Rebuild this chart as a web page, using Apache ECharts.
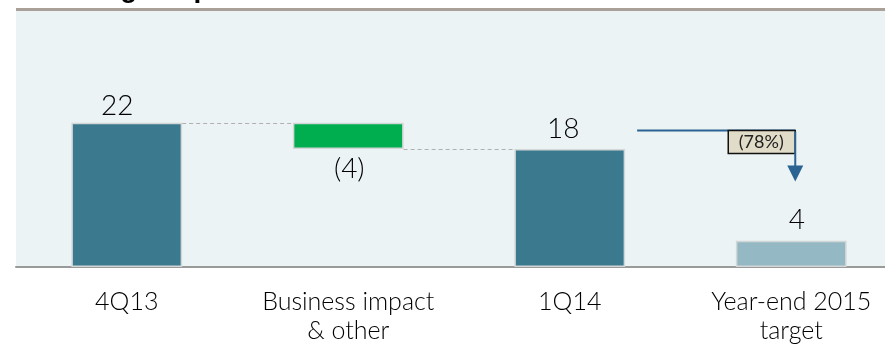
<!DOCTYPE html>
<html>
<head>
<meta charset="utf-8">
<script src="https://cdn.jsdelivr.net/npm/echarts@6/dist/echarts.min.js"></script>
<style>
html,body{margin:0;padding:0;background:#fff;}
#chart{width:885px;height:345px;}
</style>
</head>
<body>
<div id="chart"></div>
<script>
// ---- data ----
const categories = ['4Q13', 'Business impact\n& other', '1Q14', 'Year-end 2015\ntarget'];
const values = [22, -4, 18, 4];           // totals and change
const isTotal = [true, false, true, true];
const valueLabels = ['22', '(4)', '18', '4'];
const changeLabel = '(78%)';
const titleText = 'Leverage impact';

// ---- styles ----
const barColors = ['#3B7A8E', '#00AE50', '#3B7A8E', '#94B8C4'];
const labelOffsetX = [-9.5, 1, -6.5, 5.5];
const labelDist = [3, 6, 6, 7];

// waterfall base/visible computed from values
const baseData = [];
const barData = [];
let running = 0;
values.forEach((v, i) => {
  if (isTotal[i]) {
    baseData.push(0);
    barData.push(v);
    running = v;
  } else {
    const end = running + v;
    baseData.push(Math.min(running, end));
    barData.push(Math.abs(v));
    running = end;
  }
});

const chart = echarts.init(document.getElementById('chart'));
const FONT = 'Lato';

const option = {
  animation: false,
  grid: {
    left: 16, top: 10, right: -17, height: 257,
    outerBoundsMode: 'none', containLabel: false,
    show: true, backgroundColor: '#EBF3F5', borderWidth: 0
  },
  xAxis: {
    type: 'category',
    data: categories,
    axisLine: { show: true, lineStyle: { color: '#9A9A9A', width: 2 } },
    axisTick: { show: false },
    axisLabel: {
      fontFamily: FONT, fontWeight: 300, fontSize: 25, color: '#000', lineHeight: 29, margin: 20,
      interval: 0, hideOverlap: false
    },
    splitLine: { show: false }
  },
  yAxis: {
    type: 'value', min: 0, max: 39.2, show: false, splitLine: { show: false }
  },
  series: [
    {
      type: 'bar', stack: 'w', silent: true,
      itemStyle: { color: 'transparent' },
      data: baseData,
      barWidth: '50%'
    },
    {
      type: 'bar', stack: 'w', barWidth: '50%',
      data: barData.map((v, i) => ({
        value: v,
        itemStyle: { color: barColors[i], borderColor: '#D3D6D7', borderWidth: 1.5 },
        label: {
          show: true,
          position: isTotal[i] ? 'top' : 'bottom',
          distance: labelDist[i],
          offset: [labelOffsetX[i], 0],
          formatter: valueLabels[i],
          fontFamily: FONT, fontWeight: 300, fontSize: 28, color: '#000', lineHeight: 28
        }
      }))
    }
  ]
};
chart.setOption(option);

// connectors, arrow, box, title (positions derived from the axes)
function px(i, v) { return chart.convertToPixel({ gridIndex: 0 }, [i, v]); }
const band = px(1, 0)[0] - px(0, 0)[0];
const half = band * 0.25;
const graphics = [];

// dashed connectors between waterfall bars
let run = 0;
for (let i = 0; i < values.length - 2; i++) {
  const level = isTotal[i] ? values[i] : run + values[i];
  run = level;
  const a = px(i, level), b = px(i + 1, level);
  graphics.push({
    type: 'line',
    shape: { x1: a[0] + half, y1: Math.round(a[1]) + 0.5, x2: b[0] - half, y2: Math.round(a[1]) + 0.5 },
    style: { stroke: '#B0B0B0', lineWidth: 1, lineDash: [4, 3] }
  });
}

// top rule line
graphics.push({
  type: 'line',
  shape: { x1: 16, y1: 9.5, x2: 885, y2: 9.5 },
  style: { stroke: '#A9A199', lineWidth: 3 }
});

// title (cut off at top)
graphics.push({
  type: 'text',
  style: { text: titleText, x: 30, y: -11, font: 'bold 28px "Liberation Sans"', fill: '#000', verticalAlign: 'middle' }
});

// arrow from 1Q14 to target
const p2 = px(2, values[2]);
const p3 = px(3, values[3]);
const lineY = p2[1] - 18.5;
const x0 = p2[0] + half + 12;
const x1 = p3[0] + 4;
const tipY = lineY + 51;
const arrowColor = '#2B6392';
graphics.push({
  type: 'line', z: 10,
  shape: { x1: x0, y1: lineY, x2: x1, y2: lineY },
  style: { stroke: arrowColor, lineWidth: 2 }
});
graphics.push({
  type: 'rect', z: 11,
  shape: { x: x1 - 67, y: lineY, width: 67, height: 23 },
  style: { fill: '#E1DCC7', stroke: '#111', lineWidth: 1.5 }
});
graphics.push({
  type: 'text', z: 12,
  style: { text: changeLabel, x: x1 - 34, y: lineY + 12, align: 'center', verticalAlign: 'middle', font: '18px Lato', fill: '#222' }
});
graphics.push({
  type: 'line', z: 13,
  shape: { x1: x1, y1: lineY + 1, x2: x1, y2: tipY - 14 },
  style: { stroke: arrowColor, lineWidth: 2 }
});
graphics.push({
  type: 'polygon', z: 13,
  shape: { points: [[x1 - 8, tipY - 16], [x1 + 8, tipY - 16], [x1, tipY]] },
  style: { fill: arrowColor }
});

chart.setOption({ graphic: graphics });
</script>
</body>
</html>
